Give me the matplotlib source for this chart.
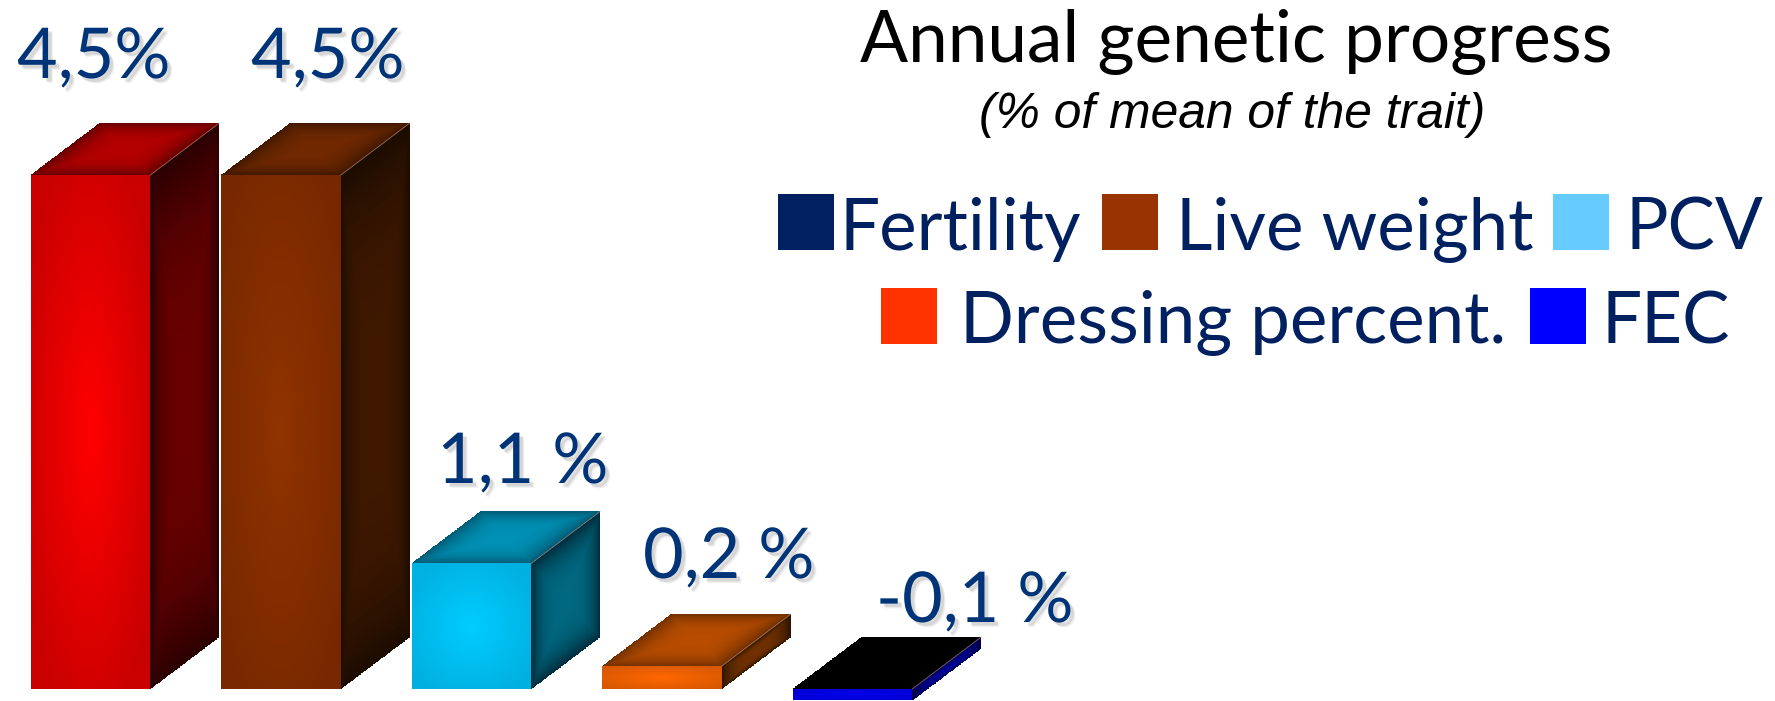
import numpy as np
import matplotlib
matplotlib.use('Agg')
import matplotlib.pyplot as plt
import matplotlib.patheffects as pe
from matplotlib.patches import Rectangle
from matplotlib.transforms import Affine2D

# valores
categorias = ['Fertility', 'Live weight', 'PCV', 'Dressing percent.', 'FEC']
valores = [4.5, 4.5, 1.1, 0.2, -0.1]
rotulos = ['4,5%', '4,5%', '1,1 %', '0,2 %', '-0,1 %']

# cores de cada face: (borda, centro)
cor_frente = [('#c80000', '#ff0000'), ('#782800', '#903300'), ('#00b0e0', '#00ccff'),
              ('#d85800', '#ff6600'), ('#0000d8', '#0000e8')]
cor_lado = [('#2a0000', '#680000'), ('#1c0c00', '#401800'), ('#002c3c', '#006880'),
            ('#2c1400', '#703000'), ('#000040', '#000090')]
cor_topo = [('#640000', '#b40000'), ('#401800', '#702800'), ('#005a74', '#0090b4'),
            ('#703000', '#b84c00'), ('#000000', '#000000')]
cor_legenda = ['#002060', '#993300', '#66ccff', '#ff3300', '#0000ff']

LARG, ALT = 1775, 701
PX_X, PX_Y = 190.5, 114.2  # pixels por unidade nos eixos
X0, Y0 = 90.5, 689
LARGURA = 0.627
DX, DY = 69 / PX_X, 52 / PX_Y
AZUL = '#003478'
AZUL_LEG = '#002060'


def hex_rgb(c):
    return np.array(matplotlib.colors.to_rgb(c))


def face(ax, p0, eu, ev, cores, radial=False):
    # face em paralelogramo: p0 + u*eu + v*ev, com degrade do centro para a borda
    n = 80
    u, v = np.meshgrid(np.linspace(0, 1, n + 1), np.linspace(0, 1, n + 1))
    X = p0[0] + u * eu[0] + v * ev[0]
    Y = p0[1] + u * eu[1] + v * ev[1]
    uc, vc = np.meshgrid((np.arange(n) + 0.5) / n, (np.arange(n) + 0.5) / n)
    a, b = np.abs(2 * uc - 1), np.abs(2 * vc - 1)
    if radial:
        s = np.clip(1 - np.hypot(a, b) / 1.2, 0, 1)
    else:
        s = 1 - np.maximum(a, b) ** 3
    borda, centro = hex_rgb(cores[0]), hex_rgb(cores[1])
    C = borda + (centro - borda) * s[..., None]
    ax.pcolormesh(X, Y, C, shading='flat', linewidth=0, rasterized=True, zorder=2)


def desenhar_barra(ax, i):
    base = min(valores[i], 0)
    topo = max(valores[i], 0)
    h = topo - base
    x0 = i - LARGURA / 2
    x1 = i + LARGURA / 2
    face(ax, (x0, base), (LARGURA, 0), (0, h), cor_frente[i], radial=True)
    face(ax, (x1, base), (DX, DY), (0, h), cor_lado[i])
    face(ax, (x0, topo), (LARGURA, 0), (DX, DY), cor_topo[i])
    # aresta clara entre topo e lado
    ax.plot([x1, x1 + DX], [topo, topo + DY], color='#c09080', lw=0.6, alpha=0.7, zorder=3)


def main():
    fig = plt.figure(figsize=(LARG / 100, ALT / 100), dpi=100)
    ax = fig.add_axes([0, 0, 1, 1])
    ax.set_xlim(-X0 / PX_X, (LARG - X0) / PX_X)
    ax.set_ylim(-(ALT - Y0) / PX_Y, Y0 / PX_Y)
    ax.axis('off')

    for i in range(len(valores)):
        desenhar_barra(ax, i)

    # transformacao em pixels da imagem, origem no canto superior esquerdo
    px = Affine2D().scale(1 / LARG, -1 / ALT).translate(0, 1) + fig.transFigure

    sombra = [pe.SimplePatchShadow(offset=(3.5, -3.5), shadow_rgbFace='#808080', alpha=0.12),
              pe.SimplePatchShadow(offset=(2.5, -2.5), shadow_rgbFace='#808080', alpha=0.22),
              pe.Normal()]
    pos_rotulos = [(17, 78), (251, 78), (437, 483), (643, 578), (876, 622)]
    for txt, (x, y) in zip(rotulos, pos_rotulos):
        t = ax.text(x, y, txt, transform=px, family='Lato', fontsize=50.5, color=AZUL,
                    ha='left', va='baseline', zorder=5)
        t.set_path_effects(sombra)

    ax.text(1236, 62, 'Annual genetic progress', transform=px, family='Lato', fontsize=51.2,
            color='black', ha='center', va='baseline')
    ax.text(1232, 128, '(% of mean of the trait)', transform=px, family='Liberation Sans',
            style='italic', fontsize=35.8, color='black', ha='center', va='baseline')

    # legenda em duas linhas
    pos_caixa = [(778, 194), (1102, 194), (1553, 194), (881, 288), (1530, 288)]
    pos_texto = [(839, 250), (1176, 250), (1625, 250), (960, 343), (1602, 343)]
    for nome, cor, (xc, yc), (xt, yt) in zip(categorias, cor_legenda, pos_caixa, pos_texto):
        ax.add_patch(Rectangle((xc, yc), 56, 56, transform=px, facecolor=cor, edgecolor='none'))
        ax.text(xt, yt, nome, transform=px, family='Lato', fontsize=51, color=AZUL_LEG,
                ha='left', va='baseline')

    fig.savefig('out.png', dpi=100)
    plt.close()


if __name__ == '__main__':
    main()
